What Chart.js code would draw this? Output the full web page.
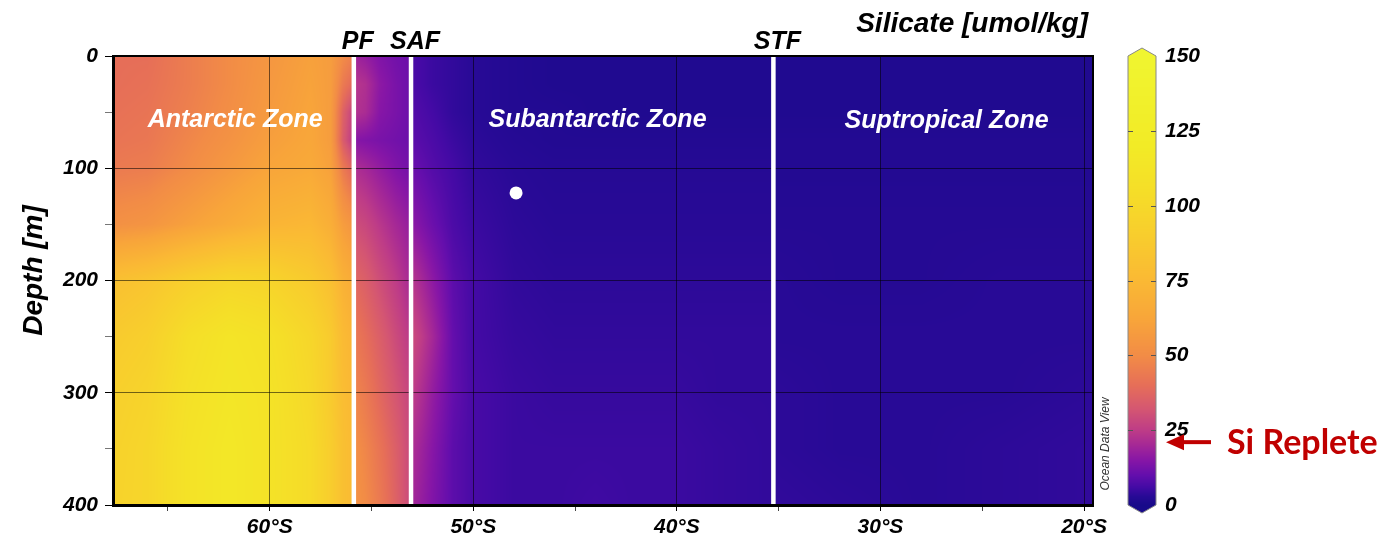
<!DOCTYPE html>
<html><head><meta charset="utf-8">
<script src="https://cdn.jsdelivr.net/npm/chart.js@4.4.1/dist/chart.umd.min.js"></script>
<style>html,body{margin:0;padding:0;background:#fff;overflow:hidden}</style>
</head><body>
<canvas id="c" width="1383" height="542"></canvas>
<script>
// ---------------- DATA ----------------
const depthLevels = [0, 25, 50, 75, 100, 150, 200, 250, 300, 350, 400];

// Antarctic Zone (south of PF); rows = depthLevels, cols = azLats
const azLats = [67.7, 66, 64, 62, 60, 58, 57, 56.4, 55.9];
const azSilicate = [
  [40, 40, 45, 50, 55, 60, 58, 50, 46],
  [40, 41, 45, 50, 56, 61, 58, 44, 38],
  [41, 42, 46, 51, 57, 62, 58, 36, 26],
  [42, 43, 48, 53, 59, 63, 58, 34, 24],
  [44, 45, 50, 56, 62, 65, 60, 44, 36],
  [52, 54, 60, 66, 72, 74, 68, 58, 54],
  [80, 84, 92, 98, 96, 88, 80, 70, 66],
  [88, 92, 105, 112, 108, 98, 88, 76, 72],
  [92, 96, 108, 114, 110, 100, 88, 78, 74],
  [94, 98, 110, 116, 110, 102, 90, 80, 76],
  [95, 98, 110, 116, 110, 102, 90, 80, 76]
];

// Between PF and SAF
const pfLats = [55.9, 55.3, 54.6, 53.8, 53.06];
const pfSilicate = [
  [19, 17, 14, 12, 11],
  [24, 22, 16, 13, 11],
  [23, 21, 15, 13, 11],
  [15, 14, 13, 12, 11],
  [22, 20, 17, 14, 12],
  [30, 28, 24, 20, 17],
  [38, 35, 30, 25, 20],
  [44, 40, 35, 29, 24],
  [48, 44, 38, 32, 27],
  [52, 48, 42, 35, 28],
  [54, 50, 44, 36, 28]
];

// Subantarctic Zone (SAF to STF)
const sazLats = [53.06, 52, 51, 50, 48, 46, 44, 42, 40, 38, 35.26];
const sazSilicate = [
  [7, 5, 4, 3, 2, 1.5, 1.5, 1.5, 1.5, 1.5, 1.5],
  [7, 5, 4, 3, 2, 1.5, 1.5, 1.5, 1.5, 1.5, 1.5],
  [8, 6, 4, 3, 2, 2, 1.5, 1.5, 1.5, 1.5, 1.5],
  [9, 7, 5, 3.5, 2.5, 2, 2, 2, 2, 2, 2],
  [11, 8, 6, 4, 3, 2.5, 2.5, 2.5, 2.5, 2.5, 2.5],
  [16, 11, 7, 5, 3.5, 3, 3, 3, 3, 3, 3],
  [24, 16, 9, 6, 4, 3.5, 3.5, 3.5, 3.5, 3.5, 3.5],
  [30, 20, 10, 6, 4.5, 4, 4, 4, 4, 4, 4],
  [26, 17, 10, 6.5, 5, 4.5, 4.5, 4.5, 4.5, 4, 4],
  [22, 15, 9, 6.5, 5, 5, 5, 5, 5, 4.5, 4],
  [20, 14, 9, 6.5, 5, 5, 5.5, 5, 5, 4.5, 4]
];

// Subtropical Zone (north of STF)
const stzLats = [35.26, 32, 28, 24, 19.56];
const stzSilicate = [
  [1.5, 1.5, 1.5, 1.5, 1.5],
  [1.5, 1.5, 1.5, 1.5, 1.5],
  [1.5, 1.5, 1.5, 1.5, 1.5],
  [2, 2, 2, 2, 2],
  [2, 2, 2, 2, 2],
  [2.5, 2.5, 2.5, 2.5, 2.5],
  [3, 2.5, 2.5, 3, 3],
  [3, 3, 3, 3, 3],
  [3.5, 3, 3, 3, 3.5],
  [3.5, 3, 3, 3.5, 4],
  [4, 3.5, 3, 3.5, 4]
];

const frontNames = ['PF', 'SAF', 'STF'];
const frontLats = [55.87, 53.06, 35.26];
const zoneNames = ['Antarctic Zone', 'Subantarctic Zone', 'Suptropical Zone'];
const zoneLabelLats = [61.7, 43.9, 26.75];
const zoneLabelDepths = [63, 63, 64];
const stationLats = [47.9];
const stationDepths = [122];
const xTickValues = [65, 60, 55, 50, 45, 40, 35, 30, 25, 20];
const yTickValues = [0, 50, 100, 150, 200, 250, 300, 350, 400];
const cbTickValues = [0, 25, 50, 75, 100, 125, 150];
const siRepleteLevel = 21;

// colour map (value -> rgb)
const cmapValues = [0, 3, 6, 10, 15, 20, 25, 32, 40, 50, 62, 75, 90, 105, 120, 150];
const cmapColors = [
  [24, 10, 138], [40, 10, 150], [68, 10, 165], [100, 14, 172], [135, 22, 166],
  [165, 40, 150], [190, 60, 135], [212, 86, 114], [230, 110, 88], [242, 140, 70],
  [248, 165, 58], [250, 185, 52], [248, 205, 45], [245, 222, 40], [242, 235, 38], [240, 245, 48]
];

// ---------------- HELPERS ----------------
const zones = [
  { lats: azLats, vals: azSilicate },
  { lats: pfLats, vals: pfSilicate },
  { lats: sazLats, vals: sazSilicate },
  { lats: stzLats, vals: stzSilicate }
];
function zoneFor(lat) {
  if (lat > frontLats[0]) return zones[0];
  if (lat > frontLats[1]) return zones[1];
  if (lat > frontLats[2]) return zones[2];
  return zones[3];
}
function fracIndex(arr, v) {
  const n = arr.length;
  for (let i = 0; i < n - 1; i++) {
    const a = arr[i], b = arr[i + 1];
    if (v >= Math.min(a, b) && v <= Math.max(a, b)) return i + (v - a) / (b - a);
  }
  const asc = arr[n - 1] > arr[0];
  if (asc) return v < arr[0] ? 0 : n - 1;
  return v > arr[0] ? 0 : n - 1;
}
function bilinear(g, fr, fc) {
  const r0 = Math.floor(fr), c0 = Math.floor(fc);
  const r1 = Math.min(r0 + 1, g.length - 1), c1 = Math.min(c0 + 1, g[0].length - 1);
  const tr = fr - r0, tc = fc - c0;
  const a = g[r0][c0] * (1 - tc) + g[r0][c1] * tc;
  const b = g[r1][c0] * (1 - tc) + g[r1][c1] * tc;
  return a * (1 - tr) + b * tr;
}
function colorFor(v) {
  v = Math.max(0, Math.min(150, v));
  const f = fracIndex(cmapValues, v);
  const i = Math.floor(f), j = Math.min(i + 1, cmapColors.length - 1), t = f - i;
  return [0, 1, 2].map(k => Math.round(cmapColors[i][k] * (1 - t) + cmapColors[j][k] * t));
}

const FONT = "'Liberation Sans', Arial, Helvetica, sans-serif";

// ---------------- PLUGINS ----------------
const heatPlugin = {
  id: 'heat',
  beforeDraw(chart) {
    const { ctx, chartArea: a, scales: { x, y } } = chart;
    const L = Math.round(a.left), T = Math.round(a.top);
    const W = Math.round(a.right) - L, H = Math.round(a.bottom) - T;
    const off = document.createElement('canvas');
    off.width = W; off.height = H;
    const octx = off.getContext('2d');
    const img = octx.createImageData(W, H);
    const cols = [];
    for (let i = 0; i < W; i++) {
      const lat = x.getValueForPixel(L + i + 0.5);
      const z = zoneFor(lat);
      cols.push({ z, f: fracIndex(z.lats, lat) });
    }
    for (let j = 0; j < H; j++) {
      const d = y.getValueForPixel(T + j + 0.5);
      const fr = fracIndex(depthLevels, d);
      for (let i = 0; i < W; i++) {
        const c = colorFor(bilinear(cols[i].z.vals, fr, cols[i].f));
        const p = (j * W + i) * 4;
        img.data[p] = c[0]; img.data[p + 1] = c[1]; img.data[p + 2] = c[2]; img.data[p + 3] = 255;
      }
    }
    octx.putImageData(img, 0, 0);
    ctx.drawImage(off, L, T);
  },
  afterDatasetsDraw(chart) {
    const { ctx, chartArea: a, scales: { x, y } } = chart;
    ctx.save();
    ctx.fillStyle = '#fff';
    ctx.font = 'italic bold 25px ' + FONT;
    ctx.textAlign = 'center';
    ctx.textBaseline = 'alphabetic';
    zoneNames.forEach((n, i) => ctx.fillText(n, x.getPixelForValue(zoneLabelLats[i]), y.getPixelForValue(zoneLabelDepths[i])));
    ctx.strokeStyle = '#000';
    ctx.lineWidth = 2;
    ctx.strokeRect(a.left, a.top, a.right - a.left, a.bottom - a.top);
    ctx.restore();
  },
  afterDraw(chart) {
    const { ctx, chartArea: a, scales: { x, y, cb } } = chart;
    ctx.save();
    ctx.fillStyle = '#000';
    ctx.font = 'italic bold 25px ' + FONT;
    ctx.textAlign = 'center';
    ctx.textBaseline = 'alphabetic';
    frontNames.forEach((n, i) => ctx.fillText(n, x.getPixelForValue(frontLats[i]) + 4, a.top - 7));
    ctx.font = 'italic bold 28px ' + FONT;
    ctx.textAlign = 'right';
    ctx.fillText('Silicate [umol/kg]', a.right - 5, 32);
    ctx.save();
    ctx.translate(42, (a.top + a.bottom) / 2 - 10);
    ctx.rotate(-Math.PI / 2);
    ctx.textAlign = 'center';
    ctx.font = 'italic bold 28px ' + FONT;
    ctx.fillText('Depth [m]', 0, 0);
    ctx.restore();
    ctx.save();
    ctx.translate(a.right + 16, 444);
    ctx.rotate(-Math.PI / 2);
    ctx.textAlign = 'center';
    ctx.font = 'italic 12px ' + FONT;
    ctx.fillStyle = '#333';
    ctx.fillText('Ocean Data View', 0, 0);
    ctx.restore();

    // colour bar
    const cbL = 1128, cbR = 1156, cbM = (cbL + cbR) / 2;
    const yTop = cb.getPixelForValue(150), yBot = cb.getPixelForValue(0);
    for (let py = Math.floor(yTop); py < Math.ceil(yBot); py++) {
      const c = colorFor(cb.getValueForPixel(py + 0.5));
      ctx.fillStyle = `rgb(${c[0]},${c[1]},${c[2]})`;
      ctx.fillRect(cbL, py, cbR - cbL, 1);
    }
    let c = colorFor(150);
    ctx.fillStyle = `rgb(${c[0]},${c[1]},${c[2]})`;
    ctx.beginPath(); ctx.moveTo(cbL, yTop); ctx.lineTo(cbM, yTop - 8); ctx.lineTo(cbR, yTop); ctx.closePath(); ctx.fill();
    c = colorFor(0);
    ctx.fillStyle = `rgb(${c[0]},${c[1]},${c[2]})`;
    ctx.beginPath(); ctx.moveTo(cbL, yBot); ctx.lineTo(cbM, yBot + 8); ctx.lineTo(cbR, yBot); ctx.closePath(); ctx.fill();
    ctx.strokeStyle = '#888';
    ctx.lineWidth = 1;
    ctx.beginPath();
    ctx.moveTo(cbL, yTop); ctx.lineTo(cbM, yTop - 8); ctx.lineTo(cbR, yTop);
    ctx.lineTo(cbR, yBot); ctx.lineTo(cbM, yBot + 8); ctx.lineTo(cbL, yBot); ctx.closePath();
    ctx.stroke();
    ctx.strokeStyle = '#555';
    ctx.fillStyle = '#000';
    ctx.font = 'italic bold 21px ' + FONT;
    ctx.textAlign = 'left';
    ctx.textBaseline = 'middle';
    cbTickValues.forEach(v => {
      const py = Math.round(cb.getPixelForValue(v)) + 0.5;
      if (v > 0 && v < 150) {
        ctx.beginPath();
        ctx.moveTo(cbL, py); ctx.lineTo(cbL + 5, py);
        ctx.moveTo(cbR - 5, py); ctx.lineTo(cbR, py);
        ctx.stroke();
      }
      ctx.fillText(String(v), 1165, py);
    });

    // Si Replete annotation
    const ay = cb.getPixelForValue(siRepleteLevel);
    ctx.strokeStyle = '#C00000';
    ctx.fillStyle = '#C00000';
    ctx.lineWidth = 4;
    ctx.beginPath(); ctx.moveTo(1211, ay); ctx.lineTo(1180, ay); ctx.stroke();
    ctx.beginPath(); ctx.moveTo(1166, ay); ctx.lineTo(1184, ay - 8); ctx.lineTo(1184, ay + 8); ctx.closePath(); ctx.fill();
    ctx.font = 'bold 34px Lato, "Open Sans", sans-serif';
    ctx.textBaseline = 'alphabetic';
    ctx.textAlign = 'left';
    ctx.fillText('Si Replete', 1227, ay + 12);
    ctx.restore();
  }
};

// ---------------- CHART ----------------
const frontDatasets = frontLats.map((lat, i) => ({
  type: 'line',
  label: frontNames[i],
  data: [{ x: lat, y: depthLevels[0] }, { x: lat, y: depthLevels[depthLevels.length - 1] }],
  borderColor: '#ffffff',
  borderWidth: 4.5,
  pointRadius: 0,
  fill: false
}));

new Chart(document.getElementById('c'), {
  type: 'scatter',
  data: {
    datasets: [
      ...frontDatasets,
      {
        type: 'scatter',
        label: 'station',
        data: stationLats.map((l, i) => ({ x: l, y: stationDepths[i] })),
        pointRadius: 6.5,
        backgroundColor: '#ffffff',
        borderWidth: 0
      }
    ]
  },
  options: {
    responsive: false,
    animation: false,
    devicePixelRatio: 1,
    events: [],
    layout: { padding: { left: 0, top: 56, right: 290, bottom: 0 } },
    plugins: { legend: { display: false }, tooltip: { enabled: false } },
    scales: {
      x: {
        type: 'linear', min: 19.56, max: 67.7, reverse: true,
        afterBuildTicks: s => { s.ticks = xTickValues.map(v => ({ value: v })); },
        afterFit: s => { s.height = 37; },
        ticks: {
          autoSkip: false, maxRotation: 0, padding: 4, color: '#000',
          font: { family: FONT, size: 21, style: 'italic', weight: 'bold' },
          callback: v => (v % 10 === 0 ? v + '°S' : '')
        },
        grid: {
          color: ctx => (ctx.tick && ctx.tick.value % 10 === 0 ? 'rgba(0,0,0,0.55)' : 'rgba(0,0,0,0)'),
          tickColor: ctx => (ctx.tick && ctx.tick.value % 10 === 0 ? '#000' : '#444'),
          tickLength: 6, lineWidth: 1
        },
        border: { color: '#000', width: 3 }
      },
      y: {
        type: 'linear', min: 0, max: 400, reverse: true,
        afterBuildTicks: s => { s.ticks = yTickValues.map(v => ({ value: v })); },
        afterFit: s => { s.width = 113; },
        ticks: {
          autoSkip: false, padding: 7, color: '#000',
          font: { family: FONT, size: 21, style: 'italic', weight: 'bold' },
          callback: v => (v % 100 === 0 ? String(v) : '')
        },
        grid: {
          color: ctx => (ctx.tick && ctx.tick.value % 100 === 0 && ctx.tick.value > 0 && ctx.tick.value < 400 ? 'rgba(0,0,0,0.55)' : 'rgba(0,0,0,0)'),
          tickColor: ctx => (ctx.tick && ctx.tick.value % 100 === 0 ? '#000' : '#777'),
          tickLength: 8, lineWidth: 1
        },
        border: { color: '#000', width: 3 }
      },
      cb: {
        type: 'linear', axis: 'y', position: 'right', min: 0, max: 150, display: false
      }
    }
  },
  plugins: [heatPlugin]
});
</script>
</body></html>
